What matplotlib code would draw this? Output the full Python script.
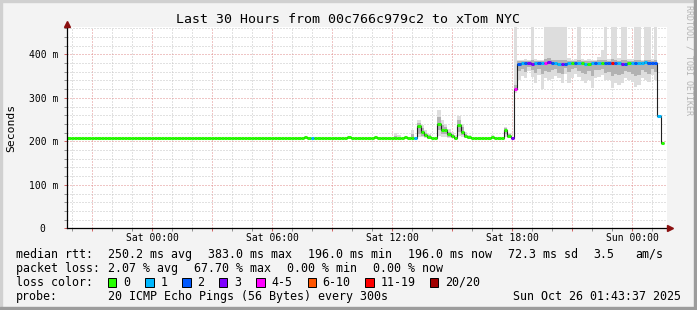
import numpy as np
import pandas as pd
import matplotlib
matplotlib.use('Agg')
import matplotlib.pyplot as plt
import matplotlib.dates as mdates
import matplotlib.transforms as mtrans
from matplotlib.patches import Rectangle
from matplotlib.ticker import MultipleLocator

# ---- data (10 minute bins, first bin starts Fri 19:45) ----
bin_start = '2025-10-24 19:45'
bin_minutes = 10
view_start = '2025-10-24 19:43:37'
view_end = '2025-10-26 01:43:37'

median_ms = [
    207, 207, 207, 207, 207, 207,
    207, 207, 207, 207, 207, 207,
    207, 207, 207, 207, 207, 207,
    207, 207, 207, 207, 207, 207,
    207, 207, 207, 207, 207, 207,
    207, 207, 207, 207, 207, 207,
    207, 207, 207, 207, 207, 207,
    207, 207, 207, 207, 207, 207,
    207, 207, 207, 207, 207, 207,
    207, 207, 207, 207, 207, 207,
    207, 207, 207, 207, 207, 207,
    207, 207, 207, 207, 207, 210,
    207, 207, 207, 207, 207, 207,
    207, 207, 207, 207, 207, 207,
    209, 207, 207, 207, 207, 207,
    207, 207, 211, 207, 207, 207,
    207, 207, 207, 207, 207, 210,
    207, 207, 207, 236, 222, 215,
    211, 208, 207, 241, 226, 227,
    218, 212, 208, 238, 222, 212,
    209, 207, 207, 207, 207, 207,
    207, 210, 207, 207, 207, 226,
    213, 208, 320, 379, 380, 381,
    380, 379, 380, 381, 380, 381,
    382, 380, 380, 379, 378, 379,
    380, 380, 381, 381, 380, 379,
    379, 380, 381, 380, 381, 380,
    381, 381, 380, 380, 378, 379,
    380, 381, 381, 380, 381, 382,
    381, 381, 381, 258, 196,
]

# index into loss_colors for every bin
loss_idx = [
    0, 0, 0, 0, 0, 0,  0, 0, 0, 0, 0, 0,
    0, 0, 0, 0, 0, 0,  0, 0, 0, 0, 0, 0,
    0, 0, 0, 0, 0, 0,  0, 0, 0, 0, 0, 0,
    0, 0, 0, 0, 0, 0,  0, 0, 0, 0, 0, 0,
    0, 0, 0, 0, 0, 0,  0, 0, 0, 0, 0, 0,
    0, 0, 0, 0, 0, 0,  0, 0, 0, 0, 0, 0,
    0, 1, 0, 0, 0, 0,
    0, 0, 0, 0, 0, 0,  0, 0, 0, 0, 0, 0,
    0, 0, 0, 0, 0, 0,  0, 0, 0, 0, 0, 0,
    0, 0, 1, 0, 0, 0,
    0, 0, 0, 0, 0, 0,  0, 0, 0, 0, 0, 0,
    0, 0, 0, 0, 0, 0,  0, 0, 0, 0, 0, 0,
    0, 3, 4, 2, 1, 2,
    3, 3, 1, 2, 1, 4,
    3, 2, 1, 1, 3, 2,
    1, 0, 2, 1, 0, 1,
    0, 1, 2, 1, 0, 2,
    2, 6, 2, 1, 3, 2,
    0, 1, 2, 1, 1, 1,
    2, 2, 2, 1, 0,
]

# smoke (spread of the 20 pings) for the bins that have any
smoke_bins = [3, 9, 37, 80, 95, 98, 99, 103, 105, 106, 107, 108, 111, 112, 113, 114, 115,
              116, 117, 118, 119, 120, 127, 131, 132, 134,
              135, 136, 137, 138, 139, 140, 141, 142, 143, 144, 145, 146, 147, 148, 149,
              150, 151, 152, 153, 154, 155, 156, 157, 158, 159, 160, 161, 162, 163, 164,
              165, 166, 167, 168, 169, 170, 171, 172, 173, 174, 175, 176]
smoke_lo = [205, 205, 205, 205, 205, 205, 205, 205, 210, 209, 207, 206, 213, 210, 210, 208, 207,
            206, 212, 209, 207, 206, 205, 210, 207, 312,
            340, 350, 346, 362, 348, 334, 352, 320, 345, 340, 343, 350, 345, 335, 355,
            334, 345, 356, 348, 338, 335, 342, 322, 345, 348, 352, 340, 342, 322, 335,
            330, 334, 345, 340, 336, 325, 330, 345, 342, 337, 352, 340]
smoke_hi = [209, 210, 209, 211, 210, 220, 214, 226, 250, 238, 226, 218, 272, 250, 240, 228, 222,
            214, 258, 240, 222, 214, 214, 234, 220, 463,
            388, 387, 389, 388, 463, 390, 387, 388, 463, 463, 463, 463, 463, 463, 463,
            392, 388, 390, 463, 389, 388, 390, 387, 388, 395, 410, 463, 390, 463, 463,
            392, 463, 463, 389, 390, 463, 463, 388, 463, 463, 389, 463]
core_lo = [207, 207, 207, 207, 207, 207, 207, 207, 218, 213, 210, 208, 226, 216, 216, 211, 209,
           207, 222, 214, 209, 207, 207, 216, 209, 316,
           362, 366, 360, 370, 364, 358, 366, 356, 362, 360, 364, 366, 358, 355, 368,
           360, 366, 368, 362, 358, 356, 362, 350, 364, 365, 366, 358, 360, 350, 356,
           352, 354, 362, 360, 356, 350, 352, 364, 360, 356, 366, 360]
core_hi = [207, 207, 207, 207, 207, 212, 207, 216, 242, 230, 220, 214, 256, 238, 234, 222, 216,
           211, 248, 232, 216, 211, 210, 230, 216, 330,
           384, 384, 385, 384, 386, 385, 384, 385, 390, 392, 388, 388, 386, 386, 386,
           385, 384, 385, 388, 384, 384, 385, 384, 385, 386, 388, 388, 385, 390, 388,
           385, 386, 386, 384, 385, 388, 388, 385, 387, 387, 385, 386]

loss_labels = ['0', '1', '2', '3', '4-5', '6-10', '11-19', '20/20']
loss_colors = ['#26ff00', '#00b8ff', '#0059ff', '#7e00ff', '#ff00ff', '#ff5500', '#ff0000', '#a10000']

tick_times = ['2025-10-25 00:00', '2025-10-25 06:00', '2025-10-25 12:00',
              '2025-10-25 18:00', '2025-10-26 00:00']
tick_labels = ['Sat 00:00', 'Sat 06:00', 'Sat 12:00', 'Sat 18:00', 'Sun 00:00']
y_ticks = [0, 100, 200, 300, 400]
y_labels = ['0  ', '100 m', '200 m', '300 m', '400 m']

title = 'Last 30 Hours from 00c766c979c2 to xTom NYC'
rtt_row = [('median rtt:', 16), ('250.2 ms avg', 107.6), ('383.0 ms max', 207.6),
           ('196.0 ms min', 307.6), ('196.0 ms now', 407.6), ('72.3 ms sd', 507.6),
           ('3.5', 593), ('am/s', 635.6)]
loss_row = [('packet loss:', 16), ('2.07 % avg', 107.6), ('67.70 % max', 193.6),
            ('0.00 % min', 286.6), ('0.00 % now', 372.6)]
probe_row = [('probe:', 16), ('20 ICMP Echo Pings (56 Bytes) every 300s', 107.6),
             ('Sun Oct 26 01:43:37 2025', 513.3)]
box_x = [108, 145.3, 182.2, 219, 256.4, 307.6, 365.3, 430]

# ---- figure ----
plt.rcParams['font.family'] = 'DejaVu Sans Mono'
W, H = 697, 310
fig = plt.figure(figsize=(W / 100, H / 100), dpi=100, facecolor='#f3f3f3')


def fx(x):
    return x / W


def fy(y):
    return 1 - y / H


ax = fig.add_axes([fx(67), fy(228.3), fx(600), 201.3 / H])
ax.set_facecolor('white')

times = pd.date_range(bin_start, periods=len(median_ms), freq=f'{bin_minutes}min')
x0 = mdates.date2num(times.to_pydatetime())
w = bin_minutes / (24 * 60)
edges = np.append(x0, x0[-1] + w)
med = np.array(median_ms, dtype=float)

sx = x0[smoke_bins]
lo = np.array(smoke_lo, dtype=float)
hi = np.array(smoke_hi, dtype=float)
clo = np.array(core_lo, dtype=float)
chi = np.array(core_hi, dtype=float)
ax.bar(sx, hi - lo, width=w, bottom=lo, align='edge', color='#dddddd', linewidth=0, zorder=1)
ax.bar(sx, chi - clo, width=w, bottom=clo, align='edge', color='#b2b2b2', linewidth=0, zorder=1.5)

ax.stairs(med, edges, baseline=None, color='#202020', linewidth=0.8, zorder=2)
ax.hlines(med, x0, x0 + w, colors=[loss_colors[i] for i in loss_idx], linewidth=2.2, zorder=3)

ax.set_xlim(mdates.date2num(pd.Timestamp(view_start)), mdates.date2num(pd.Timestamp(view_end)))
ax.set_ylim(0, 463)

# grid: hourly gray, 3-hourly red
major_x = pd.date_range('2025-10-24 21:00', '2025-10-26 00:00', freq='3h')
lbl = dict(zip(pd.to_datetime(tick_times), tick_labels))
ax.set_xticks(mdates.date2num(major_x.to_pydatetime()), [lbl.get(t, '') for t in major_x])
ax.xaxis.set_minor_locator(mdates.HourLocator())
ax.set_yticks(y_ticks, y_labels)
ax.yaxis.set_minor_locator(MultipleLocator(20))

ax.grid(which='minor', color='#c4c4c4', linestyle=(0, (1, 2)), linewidth=0.72, zorder=0)
ax.grid(which='major', color='#e08c8c', linestyle=(0, (1, 2)), linewidth=0.72, zorder=0)
ax.set_axisbelow(True)

ax.tick_params(which='both', direction='out', length=2.5, width=0.7, labelsize=7, pad=1.2)
ax.tick_params(which='major', color='#d06060')
ax.tick_params(which='minor', color='#909090')
ax.tick_params(axis='y', pad=4)

for s in ('top', 'right'):
    ax.spines[s].set_visible(False)
for s in ('left', 'bottom'):
    ax.spines[s].set_linewidth(0.9)
    ax.spines[s].set_color('black')
    ax.spines[s].set_zorder(4)

up = mtrans.offset_copy(ax.transAxes, fig=fig, x=0, y=3, units='dots')
right = mtrans.offset_copy(ax.transAxes, fig=fig, x=3, y=0, units='dots')
ax.plot([0], [1], marker='^', ms=4, color='#8b1010', transform=up, clip_on=False, zorder=5)
ax.plot([1], [0], marker='>', ms=4, color='#8b1010', transform=right, clip_on=False, zorder=5)

# ---- texts ----
fig.text(fx(347.5), fy(19.3), title, ha='center', va='center', fontsize=9.5)
fig.text(fx(11), fy(128), 'Seconds', ha='center', va='center', rotation=90, fontsize=8.2)
fig.text(fx(689), fy(60), 'RRDTOOL / TOBI OETIKER', ha='center', va='center', rotation=270,
         fontsize=6, color='#b4b4b4')

fs = 8.4
for txt, x in rtt_row:
    fig.text(fx(x), fy(254.3), txt, ha='left', va='center', fontsize=fs)
for txt, x in loss_row:
    fig.text(fx(x), fy(268.3), txt, ha='left', va='center', fontsize=fs)
fig.text(fx(16), fy(282.3), 'loss color:', ha='left', va='center', fontsize=fs)
for bx, col, name in zip(box_x, loss_colors, loss_labels):
    fig.patches.append(Rectangle((fx(bx), fy(286.5)), fx(8.4), 8.4 / H, transform=fig.transFigure,
                                 facecolor=col, edgecolor='black', linewidth=0.7))
    fig.text(fx(bx + 15), fy(282.3), name, ha='left', va='center', fontsize=fs)
for txt, x in probe_row:
    fig.text(fx(x), fy(296.3), txt, ha='left', va='center', fontsize=fs)

# 3d-ish frame around the image
fig.patches.append(Rectangle((0, fy(2)), 1, 2 / H, transform=fig.transFigure, color='#d0d0d0'))
fig.patches.append(Rectangle((0, 0), fx(2), 1, transform=fig.transFigure, color='#d0d0d0'))
fig.patches.append(Rectangle((0, 0), 1, 3 / H, transform=fig.transFigure, color='#9c9c9c'))
fig.patches.append(Rectangle((fx(694), 0), fx(3), 1, transform=fig.transFigure, color='#9c9c9c'))

fig.savefig('out.png', dpi=100, facecolor=fig.get_facecolor())
